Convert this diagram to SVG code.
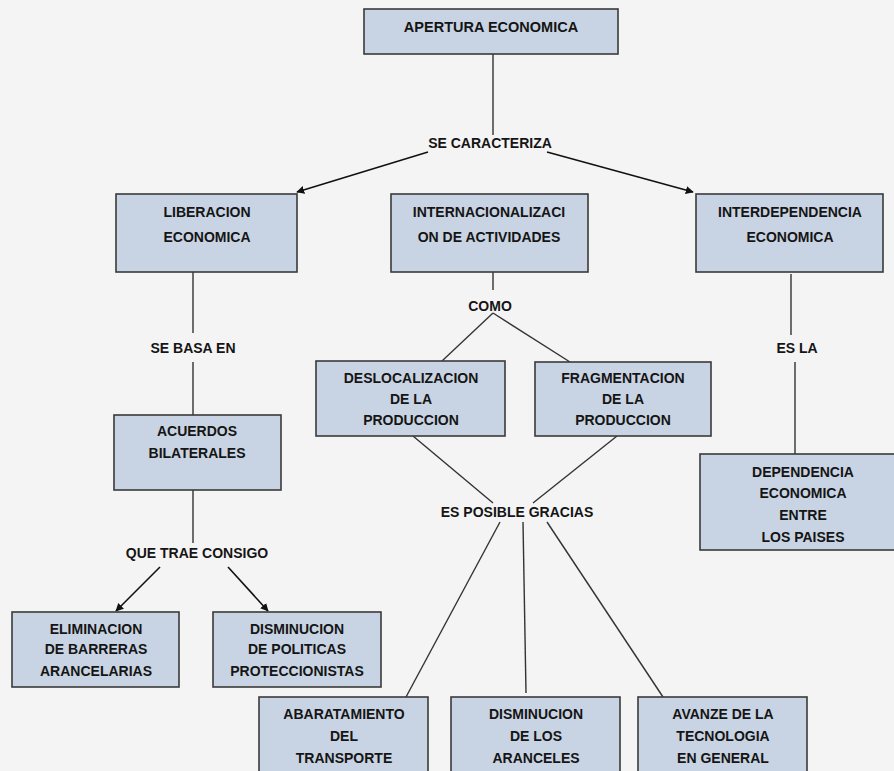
<svg xmlns="http://www.w3.org/2000/svg" width="894" height="771" viewBox="0 0 894 771">
<style>
.bg{fill:#f4f4f4}
.box{fill:#c8d4e3;stroke:#3a3a3a;stroke-width:1.6}
.t{font-family:"Liberation Sans",Arial,sans-serif;font-weight:bold;font-size:14px;fill:#151515;text-anchor:middle}
.ln{stroke:#333;stroke-width:1.4;fill:none}
.ar{stroke:#111;stroke-width:1.6;fill:none;marker-end:url(#ah)}
</style>
<defs>
<marker id="ah" viewBox="0 0 10 10" refX="9" refY="5" markerWidth="8" markerHeight="8" markerUnits="userSpaceOnUse" orient="auto">
<path d="M0,0 L10,5 L0,10 Z" fill="#111"/>
</marker>
</defs>
<rect class="bg" x="0" y="0" width="894" height="771"/>

<g id="connectors">
<line class="ln" x1="493" y1="54" x2="493" y2="135"/>
<line class="ar" x1="428" y1="152" x2="297" y2="192"/>
<line class="ar" x1="547" y1="152" x2="693" y2="192"/>
<line class="ln" x1="193" y1="272" x2="193" y2="333"/>
<line class="ln" x1="193" y1="362" x2="193" y2="415"/>
<line class="ln" x1="193" y1="490" x2="193" y2="543"/>
<line class="ar" x1="160" y1="567" x2="116" y2="611"/>
<line class="ar" x1="228" y1="567" x2="268" y2="611"/>
<line class="ln" x1="493" y1="272" x2="493" y2="290"/>
<line class="ln" x1="493" y1="313" x2="442" y2="361"/>
<line class="ln" x1="493" y1="313" x2="570" y2="362"/>
<line class="ln" x1="413" y1="436" x2="493" y2="503"/>
<line class="ln" x1="617" y1="436" x2="533" y2="503"/>
<line class="ln" x1="500" y1="522" x2="406" y2="697"/>
<line class="ln" x1="523" y1="522" x2="526" y2="693"/>
<line class="ln" x1="547" y1="522" x2="663" y2="697"/>
<line class="ln" x1="791" y1="274" x2="791" y2="335"/>
<line class="ln" x1="795" y1="362" x2="795" y2="454"/>
</g>

<g id="lbl-caracteriza"><text class="t" x="490" y="148">SE CARACTERIZA</text></g>
<g id="lbl-basa"><text class="t" x="193" y="353">SE BASA EN</text></g>
<g id="lbl-como"><text class="t" x="490" y="311">COMO</text></g>
<g id="lbl-esla"><text class="t" x="797" y="353">ES LA</text></g>
<g id="lbl-trae"><text class="t" x="197" y="558">QUE TRAE CONSIGO</text></g>
<g id="lbl-gracias"><text class="t" x="517" y="517">ES POSIBLE GRACIAS</text></g>

<g id="n-apertura">
<rect class="box" x="364" y="9" width="254" height="45"/>
<text class="t" x="491" y="32" style="font-size:14.5px">APERTURA ECONOMICA</text>
</g>
<g id="n-liberacion">
<rect class="box" x="116" y="194" width="181" height="78"/>
<text class="t" x="207" y="217">LIBERACION</text>
<text class="t" x="207" y="242">ECONOMICA</text>
</g>
<g id="n-internacional">
<rect class="box" x="391" y="194" width="197" height="78"/>
<text class="t" x="489" y="217">INTERNACIONALIZACI</text>
<text class="t" x="489" y="242">ON DE ACTIVIDADES</text>
</g>
<g id="n-interdependencia">
<rect class="box" x="696" y="194" width="187" height="78"/>
<text class="t" x="790" y="217">INTERDEPENDENCIA</text>
<text class="t" x="790" y="242">ECONOMICA</text>
</g>
<g id="n-acuerdos">
<rect class="box" x="114" y="415" width="167" height="75"/>
<text class="t" x="197" y="436">ACUERDOS</text>
<text class="t" x="197" y="458">BILATERALES</text>
</g>
<g id="n-deslocalizacion">
<rect class="box" x="316" y="361" width="189" height="75"/>
<text class="t" x="411" y="383">DESLOCALIZACION</text>
<text class="t" x="411" y="404">DE LA</text>
<text class="t" x="411" y="425">PRODUCCION</text>
</g>
<g id="n-fragmentacion">
<rect class="box" x="535" y="362" width="176" height="74"/>
<text class="t" x="623" y="383">FRAGMENTACION</text>
<text class="t" x="623" y="404">DE LA</text>
<text class="t" x="623" y="425">PRODUCCION</text>
</g>
<g id="n-dependencia">
<rect class="box" x="700" y="454" width="200" height="96"/>
<text class="t" x="803" y="477">DEPENDENCIA</text>
<text class="t" x="803" y="498">ECONOMICA</text>
<text class="t" x="803" y="520">ENTRE</text>
<text class="t" x="803" y="542">LOS PAISES</text>
</g>
<g id="n-eliminacion">
<rect class="box" x="12" y="612" width="167" height="75"/>
<text class="t" x="96" y="634">ELIMINACION</text>
<text class="t" x="96" y="654">DE BARRERAS</text>
<text class="t" x="96" y="676">ARANCELARIAS</text>
</g>
<g id="n-politicas">
<rect class="box" x="213" y="612" width="168" height="75"/>
<text class="t" x="297" y="634">DISMINUCION</text>
<text class="t" x="297" y="654">DE POLITICAS</text>
<text class="t" x="297" y="676">PROTECCIONISTAS</text>
</g>
<g id="n-abaratamiento">
<rect class="box" x="259" y="697" width="169" height="90"/>
<text class="t" x="344" y="719">ABARATAMIENTO</text>
<text class="t" x="344" y="741">DEL</text>
<text class="t" x="344" y="763">TRANSPORTE</text>
</g>
<g id="n-aranceles">
<rect class="box" x="451" y="697" width="169" height="90"/>
<text class="t" x="536" y="719">DISMINUCION</text>
<text class="t" x="536" y="741">DE LOS</text>
<text class="t" x="536" y="763">ARANCELES</text>
</g>
<g id="n-tecnologia">
<rect class="box" x="638" y="697" width="169" height="90"/>
<text class="t" x="723" y="719">AVANZE DE LA</text>
<text class="t" x="723" y="741">TECNOLOGIA</text>
<text class="t" x="723" y="763">EN GENERAL</text>
</g>
</svg>
